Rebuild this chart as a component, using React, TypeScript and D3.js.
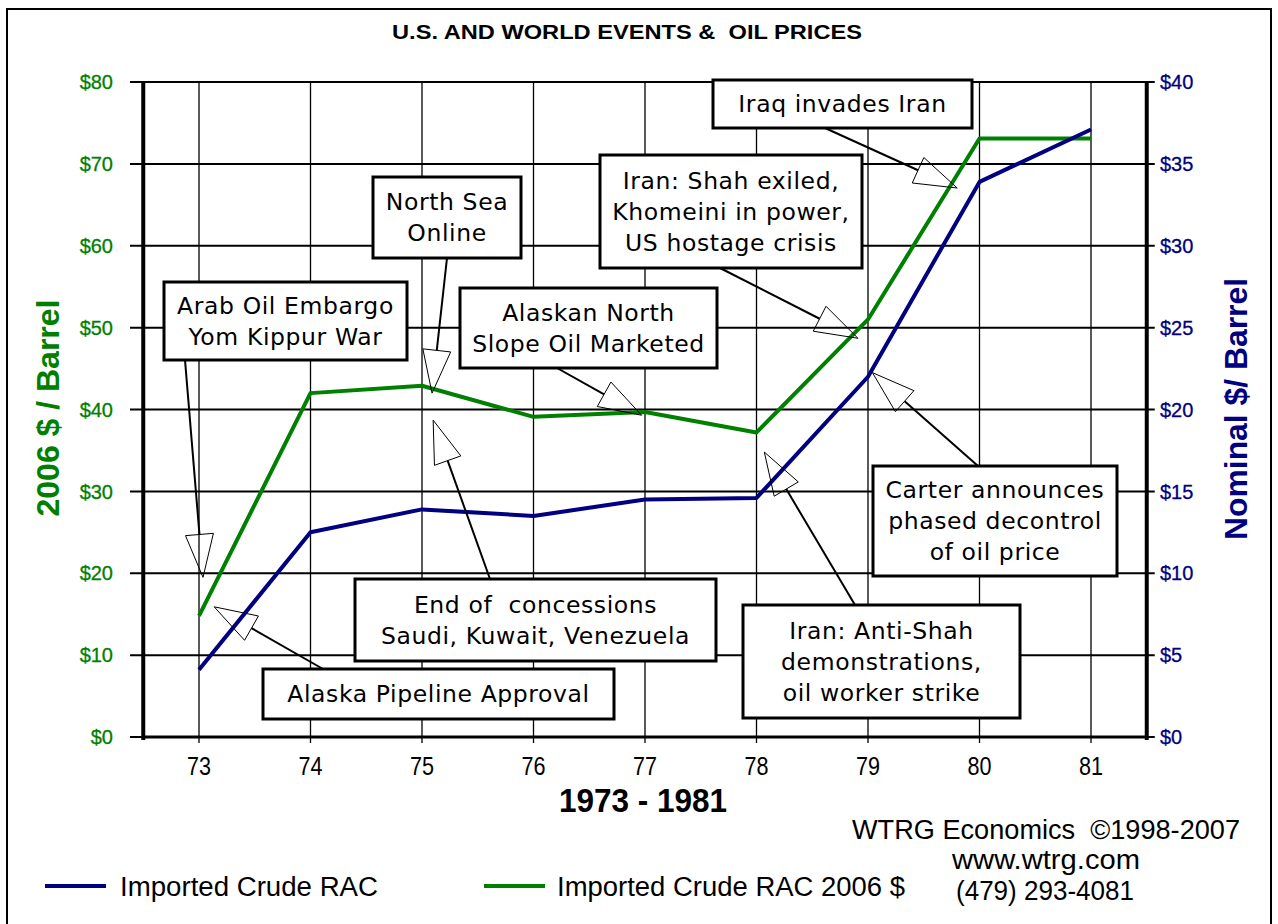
import React from "react";
import * as d3 from "d3";

const years = [73, 74, 75, 76, 77, 78, 79, 80, 81];
const nominal = [4.1, 12.5, 13.9, 13.5, 14.5, 14.6, 22.0, 33.9, 37.1];
const real2006 = [14.8, 42.0, 42.9, 39.1, 39.7, 37.2, 51.0, 73.1, 73.1];
const leftTicks = [0, 10, 20, 30, 40, 50, 60, 70, 80];
const rightTicks = [0, 5, 10, 15, 20, 25, 30, 35, 40];

type Note = {
  lines: string[];
  box: [number, number, number, number]; // x0,y0,x1,y1 layout
  start: [number, number];
  tipYear: number;
  tipValue: number; // left axis units
};

const notes: Note[] = [
  { lines: ["Arab Oil Embargo", "Yom Kippur War"], box: [164, 282, 407, 360], start: [185, 360], tipYear: 73.036, tipValue: 19.5 },
  { lines: ["North Sea", "Online"], box: [373, 177, 521, 258], start: [447, 258], tipYear: 75.09, tipValue: 42.0 },
  { lines: ["Alaskan North", "Slope Oil Marketed"], box: [460, 288, 717, 368], start: [557, 368], tipYear: 76.97, tipValue: 39.3 },
  { lines: ["End of  concessions", "Saudi, Kuwait, Venezuela"], box: [355, 579, 716, 661], start: [490, 579], tipYear: 75.1, tipValue: 38.7 },
  { lines: ["Alaska Pipeline Approval"], box: [263, 669, 614, 719], start: [323, 669], tipYear: 73.136, tipValue: 15.9 },
  { lines: ["Iraq invades Iran"], box: [713, 80, 972, 128], start: [825, 128], tipYear: 79.8, tipValue: 67.05 },
  { lines: ["Iran: Shah exiled,", "Khomeini in power,", "US hostage crisis"], box: [600, 155, 862, 268], start: [720, 268], tipYear: 78.91, tipValue: 48.7 },
  { lines: ["Iran: Anti-Shah", "demonstrations,", "oil worker strike"], box: [743, 605, 1020, 718], start: [855, 605], tipYear: 78.07, tipValue: 34.8 },
  { lines: ["Carter announces", "phased decontrol", "of oil price"], box: [873, 466, 1117, 576], start: [978, 466], tipYear: 79.04, tipValue: 44.5 },
];

const GREEN = "#008000";
const NAVY = "#000080";
const SANS = "'Liberation Sans', Arial, sans-serif";
const BOXFONT = "'DejaVu Sans', Verdana, sans-serif";

type NT = { x: number; y: number; text: string; len: number; size: number; weight?: string; anchor?: string; fill?: string; transform?: string };

const Narrow = ({ x, y, text, len, size, weight, anchor, fill, transform }: NT) => (
  <text
    x={x}
    y={y}
    transform={transform}
    dy="0.36em"
    textAnchor={anchor || "start"}
    fontFamily={SANS}
    fontSize={size}
    fontWeight={weight || "normal"}
    fill={fill || "#000"}
    textLength={len}
    lengthAdjust="spacingAndGlyphs"
    style={{ whiteSpace: "pre" }}
  >
    {text}
  </text>
);

export default function App() {
  const left = 143.25, right = 1146.75, top = 82, bottom = 737;
  const x = d3.scaleLinear().domain([72.5, 81.5]).range([left, right]);
  const yL = d3.scaleLinear().domain([0, 80]).range([bottom, top]);
  const yR = d3.scaleLinear().domain([0, 40]).range([bottom, top]);

  const lineL = d3.line<number>().x((_, i) => x(years[i])).y((d) => yL(d));
  const lineR = d3.line<number>().x((_, i) => x(years[i])).y((d) => yR(d));

  const arrow = (n: Note, i: number) => {
    const tx = x(n.tipYear), ty = yL(n.tipValue);
    const [sx, sy] = n.start;
    const dx = tx - sx, dy = ty - sy;
    const len = Math.hypot(dx, dy);
    const ux = dx / len, uy = dy / len;
    const L = 43, W = 14;
    const bx = tx - ux * L, by = ty - uy * L;
    const nx = -uy, ny = ux;
    const pts = [[bx + nx * W, by + ny * W], [tx, ty], [bx - nx * W, by - ny * W]];
    return (
      <g key={"a" + i}>
        <line x1={sx} y1={sy} x2={bx} y2={by} stroke="#000" strokeWidth={2} />
        <polygon points={pts.map((p) => p.join(",")).join(" ")} fill="none" stroke="#000" strokeWidth={1} />
      </g>
    );
  };

  const box = (n: Note, i: number) => {
    const [x0, y0, x1, y1] = n.box;
    const cx = (x0 + x1) / 2, cy = (y0 + y1) / 2;
    const lh = 31;
    const first = cy - ((n.lines.length - 1) * lh) / 2;
    return (
      <g key={"b" + i}>
        <rect x={x0} y={y0} width={x1 - x0} height={y1 - y0} fill="#fff" stroke="#000" strokeWidth={3} />
        {n.lines.map((t, j) => (
          <text key={j} x={cx} y={first + j * lh} dy="0.36em" textAnchor="middle" fontFamily={BOXFONT} fontSize={23.5} letterSpacing={0.6} fill="#000" style={{ whiteSpace: "pre" }}>
            {t}
          </text>
        ))}
      </g>
    );
  };

  return (
    <svg width={1278} height={924} style={{ position: "absolute", left: 0, top: 0, background: "#fff" }}>
      <rect x={0} y={0} width={1278} height={924} fill="#fff" />
      <rect x={7} y={9} width={1264} height={925} fill="none" stroke="#000" strokeWidth={2} />
      <Narrow x={627} y={32} anchor="middle" text={"U.S. AND WORLD EVENTS &  OIL PRICES"} len={470} size={20.5} weight="bold" />

      {/* gridlines */}
      {years.map((yr) => (
        <line key={"v" + yr} x1={x(yr)} x2={x(yr)} y1={top} y2={bottom + 6} stroke="#000" strokeWidth={1.3} />
      ))}
      {leftTicks.map((t) => (
        <line key={"h" + t} x1={130} x2={right + 8} y1={yL(t)} y2={yL(t)} stroke="#000" strokeWidth={2} />
      ))}
      {/* axes */}
      <line x1={left} x2={left} y1={top} y2={bottom + 3} stroke="#000" strokeWidth={4} />
      <line x1={right} x2={right} y1={top} y2={bottom + 3} stroke="#000" strokeWidth={4} />
      <line x1={left} x2={right} y1={bottom} y2={bottom} stroke="#000" strokeWidth={3} />

      {/* tick labels */}
      {leftTicks.map((t) => (
        <text key={"lt" + t} x={113} y={yL(t)} dy="0.36em" textAnchor="end" fill={GREEN} fontFamily={SANS} fontSize={20} stroke={GREEN} strokeWidth={0.3}>
          {"$" + t}
        </text>
      ))}
      {rightTicks.map((t) => (
        <text key={"rt" + t} x={1160} y={yR(t)} dy="0.36em" textAnchor="start" fill={NAVY} fontFamily={SANS} fontSize={20} stroke={NAVY} strokeWidth={0.3}>
          {"$" + t}
        </text>
      ))}
      {years.map((yr) => (
        <Narrow key={"xt" + yr} x={x(yr)} y={766} anchor="middle" text={String(yr)} len={24} size={25} />
      ))}
      <Narrow x={643} y={800} anchor="middle" text="1973 - 1981" len={168} size={33} weight="bold" />
      <Narrow x={0} y={0} transform="translate(48,408) rotate(-90)" anchor="middle" text="2006 $ / Barrel" len={217} size={31} weight="bold" fill={GREEN} />
      <Narrow x={0} y={0} transform="translate(1236,409) rotate(-90)" anchor="middle" text="Nominal $/ Barrel" len={262} size={31} weight="bold" fill={NAVY} />

      {/* series */}
      <path d={lineL(real2006) || ""} fill="none" stroke={GREEN} strokeWidth={4} strokeLinejoin="round" />
      <path d={lineR(nominal) || ""} fill="none" stroke={NAVY} strokeWidth={4} strokeLinejoin="round" />

      {/* annotations */}
      {notes.map(arrow)}
      {notes.map(box)}

      {/* legend */}
      <line x1={45} x2={106} y1={886} y2={886} stroke={NAVY} strokeWidth={4} />
      <Narrow x={120} y={886} text="Imported Crude RAC" len={258} size={27} />
      <line x1={484} x2={545} y1={886} y2={886} stroke={GREEN} strokeWidth={4} />
      <Narrow x={557} y={886} text="Imported Crude RAC 2006 $" len={348} size={27} />
      <Narrow x={852} y={829} text={"WTRG Economics  \u00A91998-2007"} len={388} size={27} />
      <Narrow x={952} y={859} text="www.wtrg.com" len={188} size={27} />
      <Narrow x={956} y={890} text="(479) 293-4081" len={178} size={27} />
    </svg>
  );
}
